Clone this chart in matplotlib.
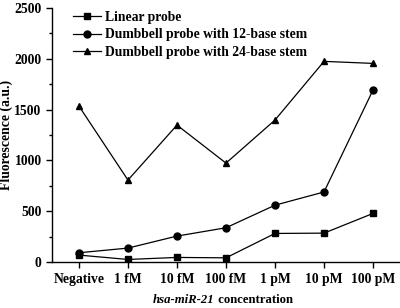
import matplotlib
matplotlib.use("Agg")
import matplotlib.pyplot as plt
from matplotlib.ticker import MultipleLocator

plt.rcParams["font.family"] = "Liberation Serif"
plt.rcParams["font.weight"] = "bold"

categories = ["Negative", "1 fM", "10 fM", "100 fM", "1 pM", "10 pM", "100 pM"]
linear = [69, 26, 46, 42, 282, 285, 479]
stem12 = [92, 138, 256, 338, 560, 690, 1693]
stem24 = [1535, 807, 1348, 974, 1398, 1975, 1955]
labels = ["Linear probe", "Dumbbell probe with 12-base stem", "Dumbbell probe with 24-base stem"]

fig = plt.figure(figsize=(4.0, 3.08), dpi=100)
ax = fig.add_axes([0.13, 0.149, 0.8675, 0.825])
x = range(len(categories))
for ys, m, lab in zip([linear, stem12, stem24], ["s", "o", "^"], labels):
    ax.plot(x, ys, "-", color="black", lw=0.9, marker=m, ms=5, label=lab)

ax.set_xlim(-0.55, 6.53)
ax.set_ylim(0, 2500)
ax.set_xticks(list(x))
ax.set_xticklabels(categories)
ax.yaxis.set_major_locator(MultipleLocator(500))
ax.yaxis.set_minor_locator(MultipleLocator(250))
ax.tick_params(axis="both", direction="out", labelsize=9.8, width=1, length=4)
ax.tick_params(axis="y", which="minor", direction="out", length=2.5, width=1)
for s in ["top", "right"]:
    ax.spines[s].set_visible(False)
for s in ["left", "bottom"]:
    ax.spines[s].set_linewidth(1)

ax.set_ylabel("Fluorescence (a.u.)", fontsize=9.8, fontweight="bold")
ax.yaxis.set_label_coords(-0.112, 0.5)

# x label: italic gene name followed by upright word
t1 = fig.text(0.383, 0.015, "hsa-miR-21", fontsize=9.2, fontweight="bold",
              style="italic", va="baseline", ha="left")
ax.annotate(" concentration", xy=(1, 0), xycoords=t1, va="bottom", ha="left",
            fontsize=9.2, fontweight="bold", style="normal")

ax.legend(loc="upper left", frameon=False, fontsize=9.8, handlelength=2.0,
          handletextpad=0.35, labelspacing=0.33, borderaxespad=0.0, bbox_to_anchor=(0.046, 1.01))

fig.savefig("out.png", dpi=100)
